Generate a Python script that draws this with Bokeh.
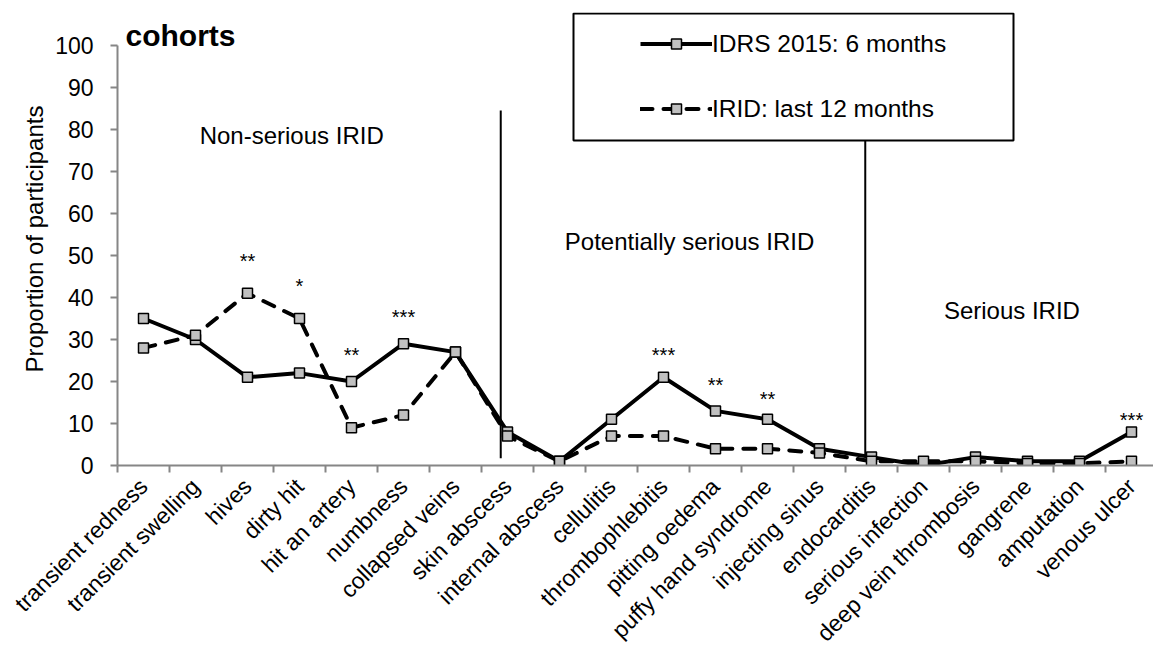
import math
from bokeh.plotting import figure
from bokeh.models import (Range1d, FixedTicker, Legend, LegendItem, BoxAnnotation,
                          Label, ColumnDataSource)
from bokeh.core.properties import value
from bokeh.embed import file_html
from bokeh.resources import INLINE

FONT = "Liberation Sans"

categories = ["transient redness", "transient swelling", "hives", "dirty hit",
              "hit an artery", "numbness", "collapsed veins", "skin abscess",
              "internal abscess", "cellulitis", "thrombophlebitis", "pitting oedema",
              "puffy hand syndrome", "injecting sinus", "endocarditis",
              "serious infection", "deep vein thrombosis", "gangrene", "amputation",
              "venous ulcer"]
idrs_2015_6m = [35, 30, 21, 22, 20, 29, 27, 8, 1, 11, 21, 13, 11, 4, 2, 0, 2, 1, 1, 8]
irid_12m = [28, 31, 41, 35, 9, 12, 27, 7, 1, 7, 7, 4, 4, 3, 1, 1, 1, 0.5, 0.5, 1]
y_ticks = list(range(0, 101, 10))

# significance markers (category, stars, height of the stars)
sig_cats = ["hives", "dirty hit", "hit an artery", "numbness", "thrombophlebitis",
            "pitting oedema", "puffy hand syndrome", "venous ulcer"]
sig_text = ["**", "*", "**", "***", "***", "**", "**", "***"]
sig_y = [49, 43, 26.5, 35.5, 26.5, 19.5, 16, 11]

# group labels
group_text = ["Non-serious IRID", "Potentially serious IRID", "Serious IRID"]
group_x = [3.35, 11.0, 17.2]
group_y = [78.6, 53.3, 36.9]

# group divider lines
div_x = [7.37, 14.38]
div_bottom = [1.7, 2.4]
div_top = [84.5, 77.4]

xs = [i + 0.5 for i in range(len(categories))]
cat_index = {c: i for i, c in enumerate(categories)}

p = figure(frame_width=1036, frame_height=453, output_backend="svg",
           toolbar_location=None,
           x_range=Range1d(0, 1036 / 52), y_range=Range1d(0, 100 + 33 / 4.2),
           min_border_left=117, min_border_right=0, min_border_top=12,
           min_border_bottom=0)
p.outline_line_color = None
p.xgrid.visible = False
p.ygrid.visible = False
p.background_fill_color = "white"

AX = "#868686"
# y axis
p.yaxis.bounds = (0, 100)
p.yaxis.ticker = FixedTicker(ticks=y_ticks)
p.yaxis.axis_label = "Proportion of participants"
p.yaxis.axis_label_text_font = FONT
p.yaxis.axis_label_text_font_style = "normal"
p.yaxis.axis_label_text_font_size = "24px"
p.yaxis.axis_label_text_color = "black"
p.yaxis.axis_label_standoff = 4
p.yaxis.major_label_text_font = FONT
p.yaxis.major_label_text_font_size = "23px"
p.yaxis.major_label_text_color = "black"
p.yaxis.major_label_standoff = 17
p.yaxis.axis_line_color = AX
p.yaxis.axis_line_width = 2
p.yaxis.major_tick_line_color = AX
p.yaxis.major_tick_line_width = 2
p.yaxis.major_tick_out = 7
p.yaxis.major_tick_in = 0
p.yaxis.minor_tick_line_color = None

# x axis
p.xaxis.ticker = FixedTicker(ticks=xs, minor_ticks=list(range(0, len(categories) + 1)))
p.xaxis.major_label_overrides = {x: c for x, c in zip(xs, categories)}
p.xaxis.major_label_orientation = math.pi / 4
p.xaxis.major_label_text_font = FONT
p.xaxis.major_label_text_font_size = "23px"
p.xaxis.major_label_text_color = "black"
p.xaxis.major_label_standoff = 10
p.xaxis.major_tick_line_color = None
p.xaxis.major_tick_out = 7
p.xaxis.major_tick_in = 0
p.xaxis.minor_tick_line_color = AX
p.xaxis.minor_tick_line_width = 2
p.xaxis.minor_tick_out = 7
p.xaxis.minor_tick_in = 0
p.xaxis.axis_line_color = AX
p.xaxis.axis_line_width = 2

# divider lines
p.segment(x0=div_x, y0=div_bottom, x1=div_x, y1=div_top, line_color="black", line_width=2)

# series
src = ColumnDataSource(dict(x=xs, a=idrs_2015_6m, b=irid_12m))
l1 = p.line("x", "a", source=src, line_color="black", line_width=4, line_join="round")
m1 = p.scatter("x", "a", source=src, marker="square", size=10, fill_color="#c0c0c0",
               line_color="black", line_width=1.5)
l2 = p.line("x", "b", source=src, line_color="black", line_width=4, line_dash="12 11",
            line_cap="round", line_join="round")
m2 = p.scatter("x", "b", source=src, marker="square", size=10, fill_color="#c0c0c0",
               line_color="black", line_width=1.5)

# significance stars
p.text(x=[cat_index[c] + 0.5 for c in sig_cats], y=sig_y, text=sig_text,
       text_font=value(FONT), text_font_size="20px", text_align="center",
       text_baseline="alphabetic", y_offset=1, text_color="black")

# group labels
p.text(x=group_x, y=group_y, text=group_text, text_font=value(FONT),
       text_font_size="24px", text_align="center", text_baseline="middle",
       text_color="black")

# legend
legend = Legend(items=[LegendItem(label="IDRS 2015: 6 months", renderers=[l1, m1]),
                       LegendItem(label="IRID: last 12 months", renderers=[l2, m2])],
                location=(523, 342.5), padding=0, margin=0, spacing=37,
                glyph_width=72, glyph_height=25, label_height=25, label_standoff=0,
                label_text_font=FONT, label_text_font_size="24.5px",
                label_text_color="black", border_line_color=None,
                background_fill_alpha=0)
p.add_layout(legend, "center")

frame_box = BoxAnnotation(left=456, right=896, top=452, bottom=325,
                          left_units="screen", right_units="screen",
                          top_units="screen", bottom_units="screen",
                          fill_alpha=0, line_color="black", line_alpha=1, line_width=2)
p.add_layout(frame_box)

title = Label(x=8, y=430, x_units="screen", y_units="screen", text="cohorts",
              text_font=FONT, text_font_style="bold", text_font_size="30px",
              text_baseline="alphabetic", text_color="black")
p.add_layout(title)

open("out.html", "w").write(file_html(p, INLINE))
